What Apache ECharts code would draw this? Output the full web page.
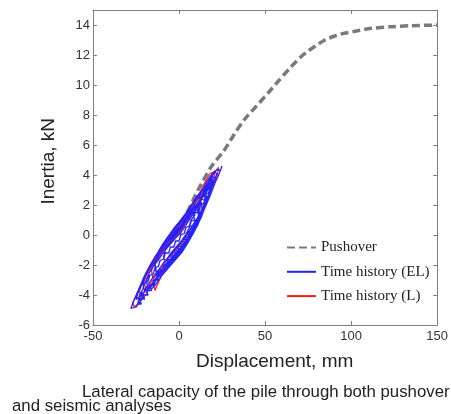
<!DOCTYPE html>
<html><head><meta charset="utf-8">
<script src="https://cdn.jsdelivr.net/npm/echarts@6/dist/echarts.min.js"></script>
<style>html,body{margin:0;padding:0;background:#fff;}#c{width:451px;height:414px;}</style>
</head><body><div id="c"></div>
<script>
// Axis settings
const xTicks = [-50, 0, 50, 100, 150];
const yTicks = [-6, -4, -2, 0, 2, 4, 6, 8, 10, 12, 14];
const seriesNames = ['Pushover', 'Time history (EL)', 'Time history (L)'];

// Pushover curve (displacement mm, inertia kN)
const pushover = [
  [0, 0], [4, 1.3], [11.5, 3.1], [19, 4.6], [26, 5.6], [32, 6.7], [38, 7.7], [45, 8.6],
  [52, 9.5], [58, 10.3], [65, 11.2], [72, 12.0], [78, 12.5], [84, 12.95], [90, 13.25],
  [96, 13.45], [103, 13.6], [110, 13.75], [122, 13.88], [135, 13.95], [150, 14.0]
];

// Time history (EL)
const timeEL = [
  [-8,-2.1],[-5,-1.7],[-2,-1.3],[1,-0.9],[4,-0.45],[7,0.1],[10,0.6],[12,1.2],
  [11,2.1],[8,1.8],[5,1.2],[2,0.7],[-1,0.3],[-4,-0.1],[-7,-0.5],[-10,-0.9],[-13,-1.5],[-14,-2.0],
  [-13,-2.7],[-11,-2.8],[-12,-2.5],[-8,-2.3],[-5,-1.9],[-2,-1.5],[1,-1.1],[4,-0.65],[7,-0.1],[10,0.5],[13,1.2],[16,2.2],[18,2.9],
  [17,3.4],[14,3.1],[11,2.6],[8,2.1],[5,1.5],[2,1.0],[-1,0.6],[-4,0.2],[-7,-0.2],[-10,-0.7],[-13,-1.3],[-16,-1.9],[-19,-2.6],[-21,-3.3],
  [-20,-3.7],[-18,-3.6],[-15,-3.3],[-12,-2.8],[-9,-2.4],[-6,-1.9],[-3,-1.55],[0,-1.15],[3,-0.7],[6,-0.2],[9,0.35],[12,1.0],[15,1.8],[18,2.6],[21,3.5],[23,4.0],[25,4.6],
  [24,4.3],[22,4.35],[19,4.05],[16,3.55],[13,2.85],[10,2.2],[7,1.7],[4,1.15],[1,0.65],[-2,0.3],[-5,-0.1],[-8,-0.5],[-11,-1.0],[-14,-1.45],[-17,-2.05],[-20,-2.7],[-23,-3.5],[-26,-4.3],[-28,-4.9],
  [-27,-5.0],[-25,-4.8],[-23,-4.5],[-21,-4.2],[-22,-3.9],[-19,-3.7],[-16,-3.3],[-13,-2.8],[-10,-2.3],[-7,-1.9],[-4,-1.5],[-1,-1.1],[2,-0.7],[5,-0.2],[8,0.35],[11,1.0],[14,1.8],[17,2.6],[20,3.5],[22,4.05],
  [21,4.2],[18,3.75],[15,3.0],[12,2.3],[9,1.75],[6,1.2],[3,0.7],[0,0.25],[-3,-0.15],[-6,-0.55],[-9,-0.95],[-12,-1.45],[-15,-1.9],[-18,-2.4],[-21,-3.1],[-24,-3.9],[-25,-4.3],
  [-24,-4.4],[-21,-3.9],[-18,-3.3],[-15,-2.8],[-12,-2.35],[-9,-1.85],[-6,-1.45],[-3,-1.05],[0,-0.66],[3,-0.2],[6,0.3],[9,0.85],[12,1.4],[15,2.1],[18,2.95],[20,3.5],
  [19,3.7],[16,3.05],[13,2.35],[10,1.7],[7,1.2],[4,0.65],[1,0.15],[-2,-0.2],[-5,-0.6],[-8,-1.0],[-11,-1.5],[-14,-1.95],[-17,-2.45],[-19,-3.1],
  [-18,-3.5],[-16,-3.6],[-13,-3.2],[-10,-2.7],[-7,-2.3],[-4,-1.9],[-1,-1.5],[2,-1.1],[5,-0.55],[8,0.05],[11,0.7],[14,1.6],[16,2.45],
  [15,3.1],[12,2.8],[9,2.35],[6,1.8],[3,1.3],[0,0.85],[-3,0.45],[-6,-0.05],[-9,-0.55],[-12,-1.25],[-14,-1.85],
  [-13,-2.6],[-10,-2.3],[-7,-1.85],[-4,-1.5],[-1,-1.1],[2,-0.7],[5,-0.15],[8,0.45],[11,1.2],[12,1.8],
  [10,2.0],[7,1.5],[4,0.95],[1,0.45],[-2,0.1],[-5,-0.4],[-8,-1.0],[-9,-1.5],
  [-8,-1.75],[-5,-1.25],[-2,-0.85],[1,-0.45],[4,0.05],[6,0.5],[7,0.9],
  [9,1.0],[8,1.5],[11,1.5],[10,2.0],[13,2.1],[12,2.5],[15,2.6],[14,3.0],[17,3.1],[16,3.4],[19,3.5],[18,3.8],[20,3.9],
  [19,3.3],[17,2.8],[15,2.7],[16,2.3],[13,2.0],[14,1.6],[11,1.5],[12,1.1],[9,1.0],[10,0.6],[7,0.6],[8,0.2],[5,0.2],[6,-0.2],
  [3,-0.1],[4,-0.5],[1,-0.4],[2,-0.8],[-1,-0.7],[0,-1.1],[-3,-1.0],[-2,-1.4],[-5,-1.3],[-4,-1.7],[-7,-1.6],[-6,-2.0],
  [-9,-2.0],[-8,-2.4],[-11,-2.3],[-10,-2.7],[-13,-2.6],[-12,-3.0],[-15,-3.0],[-14,-3.4],[-17,-3.3],[-16,-3.7],[-19,-3.7],
  [-18,-4.0],[-21,-4.0],[-20,-4.3],[-23,-4.2],[-22,-4.6],[-24,-4.6],[-23,-4.0],[-21,-3.6],[-20,-3.2],[-18,-3.1],[-17,-2.7],
  [-15,-2.6],[-14,-2.2],[-12,-2.1],[-11,-1.7],[-9,-1.6],[-8,-1.2],[-6,-1.2],[-5,-0.8],[-3,-0.8],[-2,-0.4],[0,-0.4],[1,0.0],
  [3,0.1],[4,0.5],[6,0.6],[7,1.0],[9,1.3],[10,1.8],[12,1.9],[13,2.4],[15,2.3],[16,2.9],[18,3.2],[19,3.9],[21,3.8]
];

// Time history (L)
const timeL = [
  [-10,-2.2],[-7,-2.05],[-4,-1.7],[-1,-1.3],[2,-0.9],[5,-0.35],[8,0.15],[11,0.8],[14,1.8],[15,2.5],
  [13,2.75],[10,2.3],[7,1.8],[4,1.25],[1,0.75],[-2,0.4],[-5,0.0],[-8,-0.4],[-11,-1.0],[-14,-1.65],[-16,-2.4],
  [-15,-3.0],[-14,-3.7],[-12,-3.15],[-10,-2.7],[-8,-2.3],[-5,-1.9],[-2,-1.5],[1,-1.15],[4,-0.65],[7,0.0],[10,0.6],[13,1.35],[16,2.25],[19,3.2],[21,3.87],
  [20,4.2],[18,4.1],[15,3.5],[12,2.8],[9,2.25],[6,1.7],[3,1.2],[0,0.75],[-3,0.35],[-6,-0.05],[-9,-0.55],[-12,-1.15],[-15,-1.7],[-18,-2.3],[-21,-3.1],[-23,-3.7],
  [-22,-4.3],[-20,-4.1],[-17,-3.55],[-14,-3.05],[-11,-2.6],[-8,-2.1],[-5,-1.7],[-2,-1.3],[1,-0.93],[4,-0.45],[7,0.1],[10,0.7],[13,1.45],[16,2.25],[19,3.1],[22,3.85],[23,4.5],
  [22,4.35],[20,4.2],[17,3.6],[14,2.9],[11,2.2],[8,1.65],[5,1.15],[2,0.6],[-1,0.2],[-4,-0.2],[-7,-0.55],[-10,-1.0],[-13,-1.5],[-16,-2.0],[-19,-2.6],[-22,-3.3],[-25,-4.1],[-27,-4.5],
  [-26,-4.8],[-24,-4.6],[-22,-4.2],[-19,-3.6],[-16,-3.1],[-13,-2.6],[-10,-2.1],[-7,-1.65],[-4,-1.3],[-1,-0.9],[2,-0.5],[5,0.05],[8,0.6],[11,1.1],[14,1.8],[17,2.6],[19,3.3],
  [18,3.65],[15,2.9],[12,2.2],[9,1.65],[6,1.1],[3,0.6],[0,0.15],[-3,-0.25],[-6,-0.65],[-9,-1.05],[-12,-1.55],[-15,-2.0],[-18,-2.6],[-20,-3.3],
  [-19,-3.6],[-16,-3.3],[-13,-2.8],[-10,-2.3],[-7,-1.85],[-4,-1.5],[-1,-1.1],[2,-0.7],[5,-0.15],[8,0.4],[11,1.0],[13,1.6],
  [12,2.3],[9,1.9],[6,1.4],[3,0.9],[0,0.4],[-3,0.0],[-6,-0.4],[-9,-0.9],[-11,-1.4]
];

const axisColor = '#7f7f7f';
const labelColor = '#333';
const chart = echarts.init(document.getElementById('c'), null, {renderer: 'canvas'});
const xMin = xTicks[0], xMax = xTicks[xTicks.length - 1];
const yMin = yTicks[0], yMax = 15;
const baseX = {
  type: 'value', min: xMin, max: xMax, interval: 50,
  axisLine: {show: true, onZero: false, lineStyle: {color: axisColor, width: 1}},
  axisTick: {show: true, inside: true, length: 4, lineStyle: {color: axisColor}},
  splitLine: {show: false}
};
const baseY = {
  type: 'value', min: yMin, max: yMax, interval: 2,
  axisLine: {show: true, onZero: false, lineStyle: {color: axisColor, width: 1}},
  axisTick: {show: true, inside: true, length: 4, lineStyle: {color: axisColor}},
  splitLine: {show: false}
};
const sans = '"Liberation Sans", Arial, sans-serif';
chart.setOption({
  animation: false,
  backgroundColor: '#fff',
  grid: {left: 93, right: 11, top: 10, bottom: 89, containLabel: false},
  xAxis: [
    Object.assign({}, baseX, {position: 'bottom',
      axisLabel: {show: true, margin: 5, color: labelColor, fontSize: 13, fontFamily: sans}}),
    Object.assign({}, baseX, {position: 'top', axisLabel: {show: false}})
  ],
  yAxis: [
    Object.assign({}, baseY, {position: 'left',
      axisLabel: {show: true, margin: 3, color: labelColor, fontSize: 13, showMaxLabel: false,
        fontFamily: sans,
        formatter: v => (yTicks.indexOf(v) >= 0 ? String(v) : '')}}),
    Object.assign({}, baseY, {position: 'right', axisLabel: {show: false}})
  ],
  legend: {
    orient: 'vertical', left: 286, top: 240, padding: 0,
    itemWidth: 29, itemHeight: 14, itemGap: 9.3,
    data: seriesNames,
    itemStyle: {opacity: 0},
    textStyle: {fontFamily: 'Liberation Serif, Times New Roman, serif', fontSize: 15, color: '#222'}
  },
  series: [
    {name: seriesNames[0], type: 'line', data: pushover, symbol: 'none', smooth: 0.2, z: 1,
      lineStyle: {color: '#7a7a7a', width: 3.5, type: [8, 4]}, itemStyle: {color: '#7a7a7a'}},
    {name: seriesNames[1], type: 'line', data: timeEL, symbol: 'none', z: 4,
      lineStyle: {color: '#2323ff', width: 1.3}, itemStyle: {color: '#2323ff'}},
    {name: seriesNames[2], type: 'line', data: timeL, symbol: 'none', z: 3,
      lineStyle: {color: '#ff1a1a', width: 1.3}, itemStyle: {color: '#ff1a1a'}}
  ],
  graphic: [
    {type: 'text', left: 39, top: 118, rotation: Math.PI / 2,
      style: {text: 'Inertia, kN', font: '19px ' + sans, fill: '#222'}},
    {type: 'text', left: 196, top: 352,
      style: {text: 'Displacement, mm', font: '19px ' + sans, fill: '#222'}},
    {type: 'text', left: 82, top: 384,
      style: {text: 'Lateral capacity of the pile through both pushover', font: '16.8px ' + sans, fill: '#222'}},
    {type: 'text', left: 12, top: 398,
      style: {text: 'and seismic analyses', font: '16.8px ' + sans, fill: '#222'}}
  ]
});
</script>
</body></html>
